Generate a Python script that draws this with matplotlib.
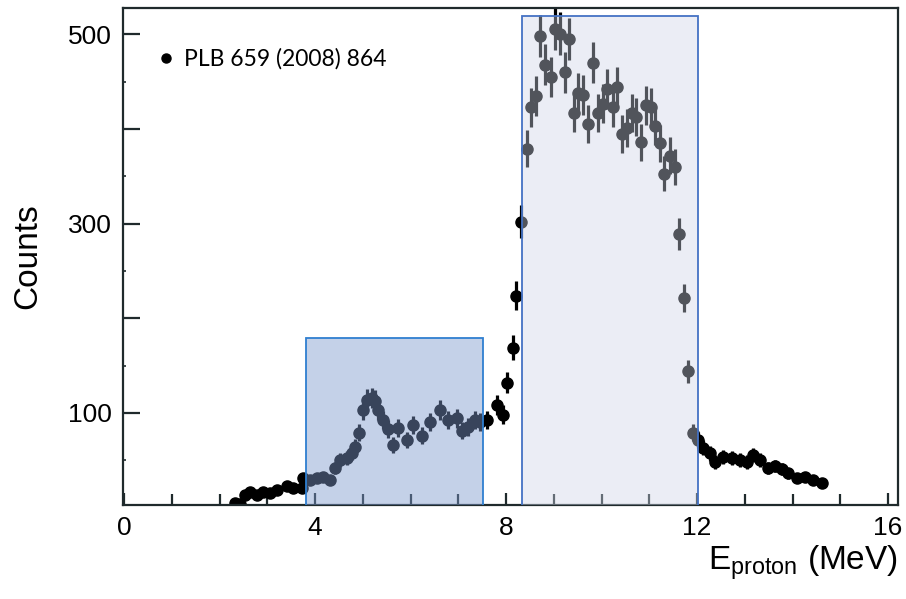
import numpy as np
import matplotlib
matplotlib.use('Agg')
import matplotlib.pyplot as plt
from matplotlib.patches import Rectangle
from matplotlib.lines import Line2D

plt.rcParams['font.family'] = ['Liberation Sans', 'DejaVu Sans']
plt.rcParams['mathtext.fontset'] = 'custom'
plt.rcParams['mathtext.rm'] = 'Liberation Sans'

# proton energy (MeV) and counts
energy = [2.32, 2.43, 2.53, 2.64, 2.78, 2.91, 3.06, 3.20, 3.41, 3.54,
          3.73, 3.75, 3.90, 4.04, 4.17, 4.31, 4.42, 4.52, 4.67, 4.77,
          4.84, 4.92, 5.00, 5.09, 5.19, 5.26, 5.32, 5.42, 5.53, 5.64,
          5.74, 5.92, 6.05, 6.24, 6.41, 6.62, 6.79, 6.97, 7.08, 7.20,
          7.35, 7.46, 7.60, 7.81, 7.94, 8.02, 8.14, 8.21, 8.31, 8.44,
          8.52, 8.63, 8.71, 8.82, 8.94, 9.03, 9.13, 9.24, 9.32, 9.42,
          9.51, 9.61, 9.72, 9.82, 9.93, 10.03, 10.11, 10.24, 10.32, 10.43,
          10.53, 10.64, 10.72, 10.83, 10.93, 11.04, 11.12, 11.23, 11.31, 11.43,
          11.54, 11.62, 11.73, 11.81, 11.92, 12.02, 12.13, 12.27, 12.38, 12.54,
          12.73, 12.90, 13.05, 13.17, 13.32, 13.49, 13.63, 13.78, 13.91, 14.09,
          14.26, 14.43, 14.62]
counts = [5, 4, 13, 16, 13, 16, 15, 18, 23, 20,
          21, 31, 29, 31, 32, 29, 42, 50, 52, 58,
          64, 79, 103, 114, 116, 113, 103, 92, 83, 66,
          84, 71, 87, 76, 90, 103, 92, 94, 81, 85,
          92, 90, 92, 108, 98, 132, 169, 224, 302, 379,
          423, 435, 498, 468, 455, 506, 501, 460, 495, 417,
          438, 436, 405, 470, 417, 427, 442, 423, 444, 395,
          401, 417, 413, 386, 425, 423, 403, 385, 353, 372,
          360, 289, 221, 144, 79, 71, 63, 57, 48, 53,
          52, 50, 48, 55, 50, 42, 44, 41, 36, 31,
          32, 29, 26]
errors = np.sqrt(counts)

# highlighted energy windows (MeV) and box heights (counts)
window_lo = [3.81, 7.52]
window_hi = [8.33, 12.02]
window_top = [179, 520]

fig = plt.figure(figsize=(9.06, 5.99), dpi=100)
ax = fig.add_axes([0.1358, 0.157, 0.855, 0.8297])

ax.errorbar(energy, counts, yerr=errors, fmt='o', color='black',
            markersize=8, elinewidth=2.3, capsize=0, zorder=2)

# low-energy box (darker blue) and high-energy box (light)
ax.add_patch(Rectangle((window_lo[0], 0), window_lo[1] - window_lo[0], window_top[0],
                       facecolor=(0.494, 0.600, 0.800, 0.45),
                       edgecolor='#2f7fd0', linewidth=1.3, zorder=3))
ax.add_patch(Rectangle((window_hi[0], 0), window_hi[1] - window_hi[0], window_top[1],
                       facecolor=(0.804, 0.831, 0.902, 0.40),
                       edgecolor='#4472c4', linewidth=1.3, zorder=3))

ax.set_xlim(-0.02, 16.2)
ax.set_ylim(2.6, 528)

ax.set_xticks([0, 4, 8, 12, 16])
ax.set_xticks(np.arange(0, 17, 1), minor=True)
ax.set_yticks([100, 200, 300, 400, 500])
ax.set_yticklabels(['100', '', '300', '', '500'])
ax.set_yticks(np.arange(50, 528, 50), minor=True)

spine_col = '#1f2a2c'
for s in ax.spines.values():
    s.set_linewidth(1.6)
    s.set_color(spine_col)
ax.tick_params(axis='both', which='major', direction='in', length=9, width=1.6,
               color=spine_col, labelsize=19, pad=8)
ax.tick_params(axis='x', which='minor', direction='in', length=8, width=1.6,
               color=spine_col)
ax.tick_params(axis='y', which='minor', direction='in', length=2, width=1.2,
               color=spine_col)
ax.tick_params(axis='y', which='major', length=12)

ax.set_ylabel('Counts', fontsize=24, labelpad=18)
ax.set_xlabel(r'E$_{\mathrm{proton}}$ (MeV)', fontsize=24, loc='right', labelpad=2)

# legend shows only the dot, no error bar
handle = Line2D([], [], marker='o', linestyle='none', color='black', markersize=6.5)
ax.legend([handle], ['PLB 659 (2008) 864'], loc='upper left',
          bbox_to_anchor=(0.02, 0.96), frameon=False,
          handlelength=0.6, handletextpad=0.5,
          prop={'family': 'Lato', 'size': 16.5})

fig.savefig('out.png', dpi=100)
